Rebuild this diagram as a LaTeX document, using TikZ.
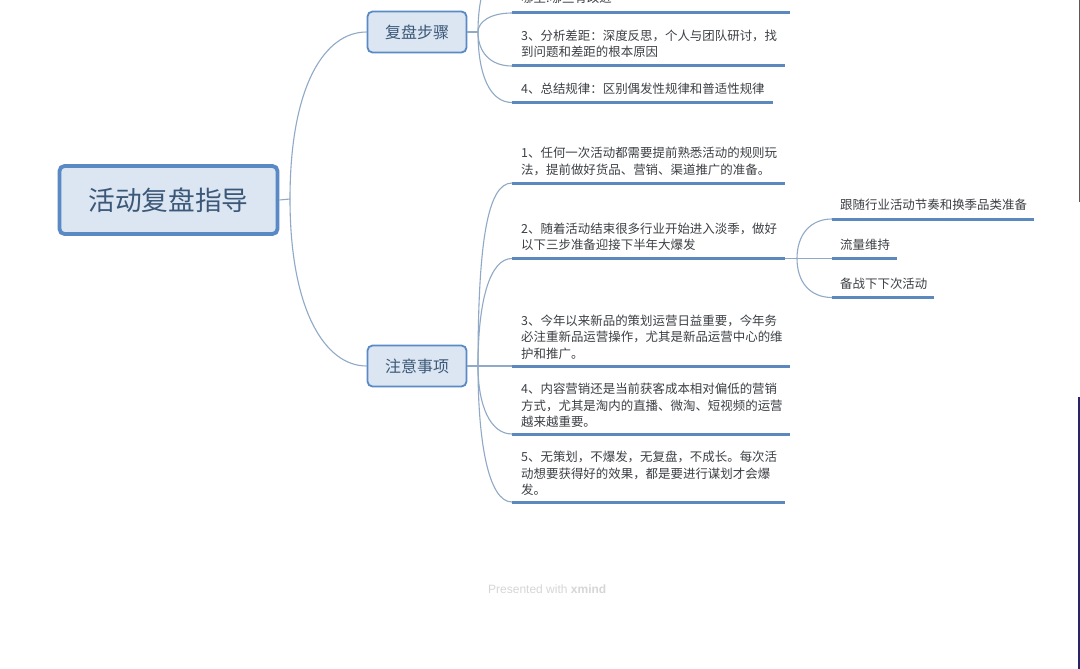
\documentclass[tikz,border=0pt]{standalone}
\usepackage{fontspec}
\setmainfont{Noto Sans CJK SC}
\newfontfamily\wmfont{Liberation Sans}
\newcommand{\qcomma}{\symbol{"FF0C}}
\newcommand{\qcolon}{\symbol{"FF1A}}
\definecolor{rulec}{HTML}{5B88BD}
\definecolor{linkc}{HTML}{8FA9C6}
\definecolor{boxfill}{HTML}{DCE6F2}
\definecolor{boxline}{HTML}{5A8AC6}
\definecolor{headtext}{HTML}{3B5878}
\definecolor{bodytext}{HTML}{3C4044}
\tikzset{
  rootbox/.style={draw=boxline,fill=boxfill,line width=3.8pt,rounded corners=5pt,minimum width=218pt,minimum height=68pt,inner sep=0pt,text=headtext,font=\fontsize{26.7}{30}\selectfont},
  subbox/.style={draw=boxline,fill=boxfill,line width=1.8pt,rounded corners=5pt,minimum width=99pt,minimum height=41pt,inner sep=0pt,text=headtext,font=\fontsize{16}{20}\selectfont},
  itemtext/.style={anchor=west,inner sep=0pt,align=left,text=bodytext,font=\fontsize{12.45}{16.4}\selectfont},
  topicrule/.style={draw=rulec,line width=3pt},
  linkline/.style={draw=linkc,line width=1.1pt},
}
\begin{document}
\begin{tikzpicture}[x=1pt,y=-1pt]
\clip (0,0) rectangle (1080,669);
\fill[white] (0,0) rectangle (1080,669);
% main boxes
\node[rootbox] (root) at (168.5,200) {活动复盘指导};
\node[subbox] (s1) at (417,32) {复盘步骤};
\node[subbox] (s2) at (417,366) {注意事项};
% forks
\coordinate (f0) at (290,199);
\coordinate (f1) at (478,32);
\coordinate (f2) at (478,366);
\coordinate (f3) at (797,258.5);
% rule ends
\coordinate (a0) at (512,-40);
\coordinate (a1) at (512,13);  \coordinate (b1) at (790,13);
\coordinate (a2) at (512,66);  \coordinate (b2) at (785,66);
\coordinate (a3) at (512,102.5); \coordinate (b3) at (773,102.5);
\coordinate (a4) at (512,183); \coordinate (b4) at (785,183);
\coordinate (a5) at (512,258.5); \coordinate (b5) at (785,258.5);
\coordinate (a6) at (512,366); \coordinate (b6) at (790,366);
\coordinate (a7) at (512,434); \coordinate (b7) at (790,434);
\coordinate (a8) at (512,502); \coordinate (b8) at (785,502);
\coordinate (a9) at (832,219); \coordinate (b9) at (1034,219);
\coordinate (a10) at (832,258.5); \coordinate (b10) at (897,258.5);
\coordinate (a11) at (832,297.5); \coordinate (b11) at (934,297.5);
% connectors
\draw[linkline] (root.east) -- (f0);
\draw[linkline] (f0) .. controls (290,85) and (325,32) .. (s1.west);
\draw[linkline] (f0) .. controls (290,310) and (325,366) .. (s2.west);
\draw[linkline] (s1.east) -- (f1);
\draw[linkline] (f1) .. controls (478,-10) and (490,-40) .. (a0);
\draw[linkline] (f1) .. controls (478,22) and (490,13) .. (a1);
\draw[linkline] (f1) .. controls (478,52) and (490,66) .. (a2);
\draw[linkline] (f1) .. controls (478,75) and (490,102.5) .. (a3);
\draw[linkline] (s2.east) -- (f2);
\draw[linkline] (f2) .. controls (478,240) and (488,183) .. (a4);
\draw[linkline] (f2) .. controls (478,300) and (490,258.5) .. (a5);
\draw[linkline] (f2) -- (a6);
\draw[linkline] (f2) .. controls (478,405) and (490,434) .. (a7);
\draw[linkline] (f2) .. controls (478,440) and (488,502) .. (a8);
\draw[linkline] (b5) -- (f3);
\draw[linkline] (f3) .. controls (797,235) and (810,219) .. (a9);
\draw[linkline] (f3) -- (a10);
\draw[linkline] (f3) .. controls (797,282) and (810,297.5) .. (a11);
% rules
\draw[topicrule] (a1) -- (b1);
\draw[topicrule] (a2) -- (b2);
\draw[topicrule] (a3) -- (b3);
\draw[topicrule] (a4) -- (b4);
\draw[topicrule] (a5) -- (b5);
\draw[topicrule] (a6) -- (b6);
\draw[topicrule] (a7) -- (b7);
\draw[topicrule] (a8) -- (b8);
\draw[topicrule] (a9) -- (b9);
\draw[topicrule] (a10) -- (b10);
\draw[topicrule] (a11) -- (b11);
% texts
\node[itemtext] (t1) at (521,-2) {哪里:哪些有改进};
\node[itemtext] (t2) at (521,44) {3、分析差距\qcolon 深度反思\qcomma 个人与团队研讨\qcomma 找\\到问题和差距的根本原因};
\node[itemtext] (t3) at (521,88.5) {4、总结规律\qcolon 区别偶发性规律和普适性规律};
\node[itemtext] (t4) at (521,161.5) {1、任何一次活动都需要提前熟悉活动的规则玩\\法\qcomma 提前做好货品、营销、渠道推广的准备。};
\node[itemtext] (t5) at (521,236.5) {2、随着活动结束很多行业开始进入淡季\qcomma 做好\\以下三步准备迎接下半年大爆发};
\node[itemtext] (t6) at (521,337) {3、今年以来新品的策划运营日益重要\qcomma 今年务\\必注重新品运营操作\qcomma 尤其是新品运营中心的维\\护和推广。};
\node[itemtext] (t7) at (521,405.5) {4、内容营销还是当前获客成本相对偏低的营销\\方式\qcomma 尤其是淘内的直播、微淘、短视频的运营\\越来越重要。};
\node[itemtext] (t8) at (521,473.5) {5、无策划\qcomma 不爆发\qcomma 无复盘\qcomma 不成长。每次活\\动想要获得好的效果\qcomma 都是要进行谋划才会爆\\发。};
\node[itemtext] (t9) at (840,205) {跟随行业活动节奏和换季品类准备};
\node[itemtext] (t10) at (840,244.5) {流量维持};
\node[itemtext] (t11) at (840,283.5) {备战下下次活动};
% watermark
\node[anchor=west,inner sep=0pt,text=black!16,font=\wmfont\fontsize{12}{14}\selectfont] (wm) at (488,589) {Presented with \textbf{xmind}};
% edge slivers
\fill[black!65] (1078.6,0) rectangle (1080,202);
\fill[blue!30!black!85] (1077.8,397) rectangle (1080,669);
\end{tikzpicture}
\end{document}
